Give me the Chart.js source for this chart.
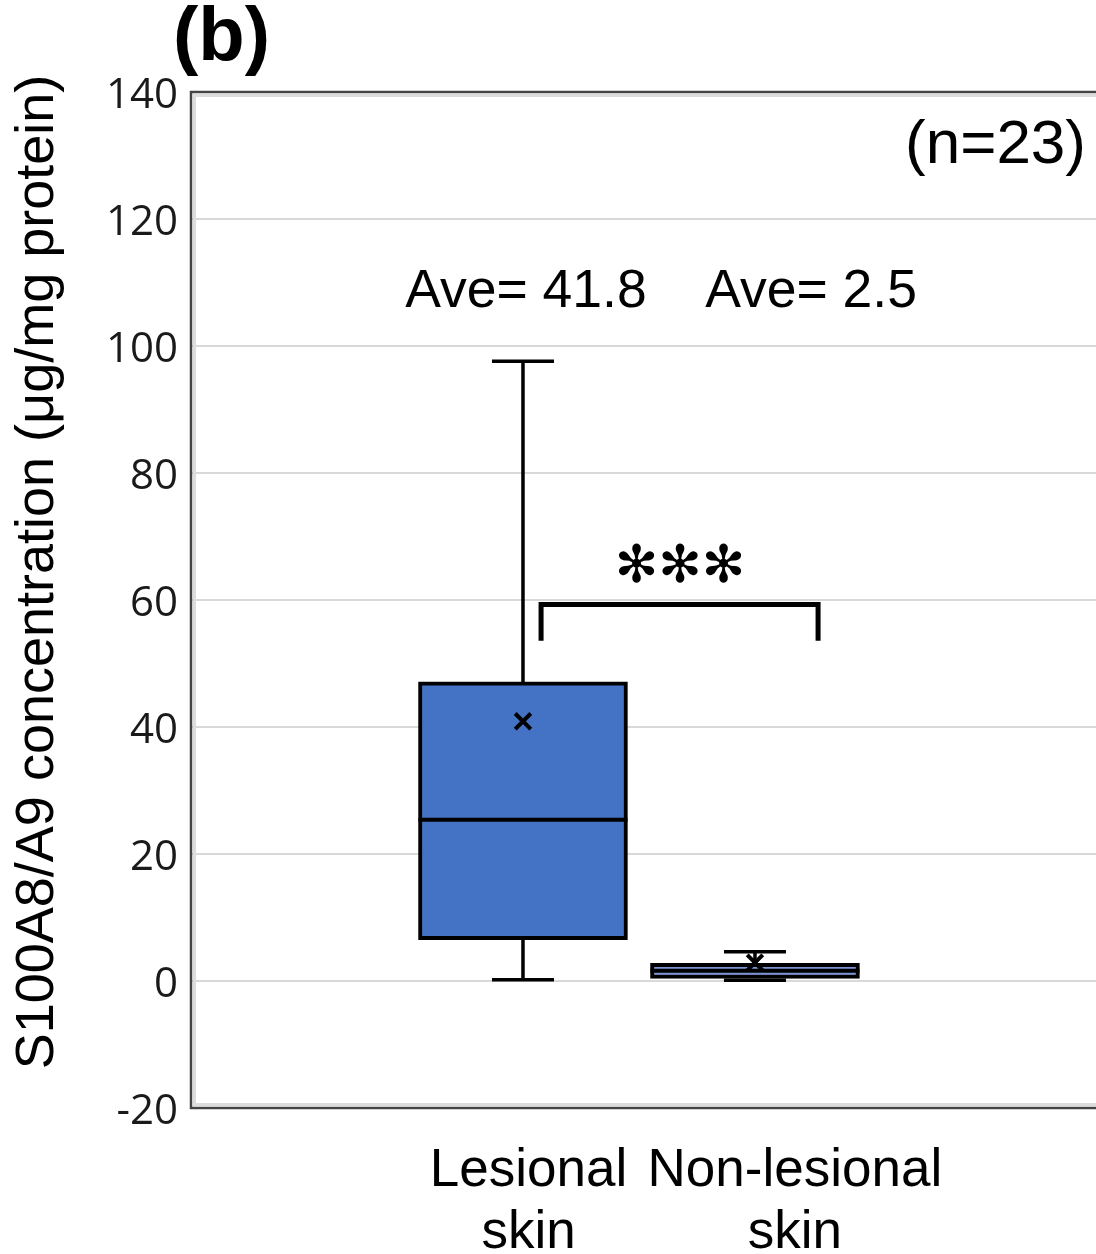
<!DOCTYPE html>
<html>
<head>
<meta charset="utf-8">
<script src="https://cdn.jsdelivr.net/npm/chart.js@4"></script>
<style>
  body { margin: 0; background: #fff; }
  #wrap { width: 1096px; height: 1254px; }
</style>
</head>
<body>
<div id="wrap"><canvas id="boxChart"></canvas></div>
<script>
// values
var categories = ['Lesional skin', 'Non-lesional skin'];
var whiskerLow = [0.2, 0.1];
var quartile1 = [6.5, 0.4];
var medians = [25.4, 1.6];
var quartile3 = [47.1, 2.8];
var whiskerHigh = [97.6, 4.6];
var means = [40.9, 2.9];
var aveLabels = ['Ave= 41.8', 'Ave= 2.5'];
var boxColors = ['#4472c4', '#7b93d3'];
var yMin = -20;
var yMax = 140;
var yStep = 20;

var boxData = [];
var meanData = [];
for (var i = 0; i < categories.length; i++) {
  boxData.push({ x: i + 1, y: [quartile1[i], quartile3[i]] });
  meanData.push({ x: i + 1, y: means[i] });
}

var boxExtras = {
  id: 'boxExtras',
  afterDatasetsDraw: function (chart) {
    var ctx = chart.ctx;
    var xs = chart.scales.x;
    var ys = chart.scales.y;
    var bars = chart.getDatasetMeta(0).data;
    ctx.save();
    ctx.strokeStyle = '#000';
    ctx.lineCap = 'butt';
    for (var i = 0; i < categories.length; i++) {
      var cx = xs.getPixelForValue(i + 1);
      var half = bars[i].width / 2;
      var capHalf = 31;
      ctx.lineWidth = 3.5;
      ctx.beginPath();
      // upper whisker
      ctx.moveTo(cx, ys.getPixelForValue(quartile3[i]));
      ctx.lineTo(cx, ys.getPixelForValue(whiskerHigh[i]));
      ctx.moveTo(cx - capHalf, ys.getPixelForValue(whiskerHigh[i]));
      ctx.lineTo(cx + capHalf, ys.getPixelForValue(whiskerHigh[i]));
      // lower whisker
      ctx.moveTo(cx, ys.getPixelForValue(quartile1[i]));
      ctx.lineTo(cx, ys.getPixelForValue(whiskerLow[i]));
      ctx.moveTo(cx - capHalf, ys.getPixelForValue(whiskerLow[i]));
      ctx.lineTo(cx + capHalf, ys.getPixelForValue(whiskerLow[i]));
      ctx.stroke();
      // median
      ctx.lineWidth = 4;
      ctx.beginPath();
      ctx.moveTo(cx - half, ys.getPixelForValue(medians[i]));
      ctx.lineTo(cx + half, ys.getPixelForValue(medians[i]));
      ctx.stroke();
    }

    // significance bracket
    var bx1 = xs.getPixelForValue(1.078);
    var bx2 = xs.getPixelForValue(2.272);
    var byTop = ys.getPixelForValue(59.3);
    var byEnd = ys.getPixelForValue(53.6);
    ctx.lineWidth = 5;
    ctx.lineJoin = 'miter';
    ctx.beginPath();
    ctx.moveTo(bx1, byEnd);
    ctx.lineTo(bx1, byTop);
    ctx.lineTo(bx2, byTop);
    ctx.lineTo(bx2, byEnd);
    ctx.stroke();

    ctx.fillStyle = '#000';
    ctx.textAlign = 'center';
    ctx.textBaseline = 'middle';
    ctx.font = '52px "DejaVu Sans"';
    ctx.fillText('\u273B\u273B\u273B', xs.getPixelForValue(1.677), ys.getPixelForValue(65.0));

    // averages
    ctx.font = '53.5px "Liberation Sans", Arial, sans-serif';
    ctx.fillText(aveLabels[0], xs.getPixelForValue(1.013), ys.getPixelForValue(108.5));
    ctx.fillText(aveLabels[1], xs.getPixelForValue(2.242), ys.getPixelForValue(108.5));
    ctx.restore();
  },
  afterDraw: function (chart) {
    var ctx = chart.ctx;
    var area = chart.chartArea;
    var xs = chart.scales.x;
    ctx.save();
    // frame: top, left, bottom only (right edge is cut off)
    ctx.strokeStyle = '#dcdcdc';
    ctx.lineWidth = 3;
    ctx.beginPath();
    ctx.moveTo(area.right, area.top + 3.5);
    ctx.lineTo(area.left + 3.5, area.top + 3.5);
    ctx.lineTo(area.left + 3.5, area.bottom - 3.5);
    ctx.lineTo(area.right, area.bottom - 3.5);
    ctx.stroke();
    ctx.strokeStyle = '#444';
    ctx.lineWidth = 2.5;
    ctx.beginPath();
    ctx.moveTo(area.right, area.top);
    ctx.lineTo(area.left, area.top);
    ctx.lineTo(area.left, area.bottom);
    ctx.lineTo(area.right, area.bottom);
    ctx.stroke();

    ctx.fillStyle = '#000';
    ctx.textBaseline = 'middle';

    // panel letter
    ctx.textAlign = 'left';
    ctx.font = 'bold 76px "Liberation Sans", Arial, sans-serif';
    ctx.fillText('(b)', 173, 39);

    ctx.textAlign = 'right';
    ctx.font = '62px "Liberation Sans", Arial, sans-serif';
    ctx.fillText('(n=23)', 1086, 146);

    // category labels, two lines each
    ctx.textAlign = 'center';
    ctx.font = '53px "Liberation Sans", Arial, sans-serif';
    var labelX = [xs.getPixelForValue(1.024), xs.getPixelForValue(2.172)];
    for (var i = 0; i < categories.length; i++) {
      var parts = categories[i].split(' ');
      ctx.fillText(parts[0], labelX[i], area.bottom + 63);
      ctx.fillText(parts[1], labelX[i], area.bottom + 125);
    }

    // y axis title
    ctx.translate(38, 572);
    ctx.rotate(-Math.PI / 2);
    ctx.font = '54px "Liberation Sans", Arial, sans-serif';
    ctx.fillText('S100A8/A9 concentration (\u03bcg/mg protein)', 0, 0);
    ctx.restore();
  }
};

var chart = new Chart(document.getElementById('boxChart'), {
  type: 'bar',
  data: {
    datasets: [{
      type: 'bar',
      label: 'IQR',
      order: 2,
      data: boxData,
      backgroundColor: boxColors,
      borderColor: '#000',
      borderWidth: 4,
      borderSkipped: false,
      barThickness: 209
    }, {
      type: 'scatter',
      label: 'Mean',
      order: 1,
      data: meanData,
      pointStyle: 'crossRot',
      pointRadius: 11,
      borderColor: '#000',
      borderWidth: 4,
      backgroundColor: '#000'
    }]
  },
  options: {
    responsive: true,
    maintainAspectRatio: false,
    animation: false,
    layout: { autoPadding: false, padding: { top: 92, bottom: 146, left: 0, right: 0 } },
    plugins: {
      legend: { display: false },
      tooltip: { enabled: false }
    },
    scales: {
      x: {
        type: 'linear',
        display: false,
        offset: false,
        min: -0.431,
        max: 3.47
      },
      y: {
        min: yMin,
        max: yMax,
        afterFit: function (scale) { scale.width = 191; },
        ticks: {
          stepSize: yStep,
          padding: 13,
          labelOffset: 4,
          color: '#1a1a1a',
          font: { family: '"Open Sans", sans-serif', size: 42 }
        },
        grid: {
          color: '#d9d9d9',
          lineWidth: 2,
          drawTicks: false
        },
        border: { display: false }
      }
    }
  },
  plugins: [boxExtras]
});
</script>
</body>
</html>
